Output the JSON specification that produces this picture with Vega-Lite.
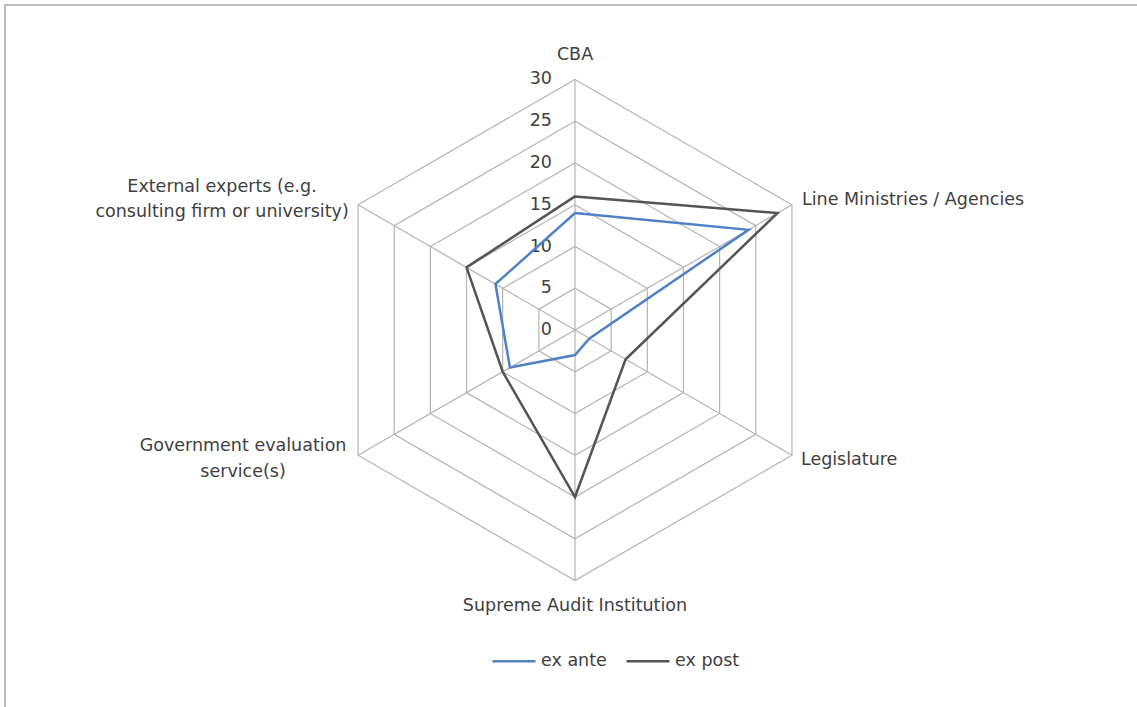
{
  "$schema": "https://vega.github.io/schema/vega-lite/v6.json",
  "width": 1133,
  "height": 703,
  "autosize": {"type": "none"},
  "padding": {"left": 5, "top": 5, "right": 0, "bottom": 0},
  "background": "white",
  "config": {
    "view": {"stroke": "#a6a6a6", "strokeWidth": 1.5},
    "font": "DejaVu Sans",
    "text": {"font": "DejaVu Sans", "fontSize": 17.5, "fill": "#404040"}
  },
  "datasets": {
    "scores": [
      {"category": "CBA", "series": "ex ante", "value": 14},
      {"category": "Line Ministries / Agencies", "series": "ex ante", "value": 24},
      {"category": "Legislature", "series": "ex ante", "value": 2},
      {"category": "Supreme Audit Institution", "series": "ex ante", "value": 3},
      {"category": "Government evaluation service(s)", "series": "ex ante", "value": 9},
      {"category": "External experts (e.g. consulting firm or university)", "series": "ex ante", "value": 11},
      {"category": "CBA", "series": "ex post", "value": 16},
      {"category": "Line Ministries / Agencies", "series": "ex post", "value": 28},
      {"category": "Legislature", "series": "ex post", "value": 7},
      {"category": "Supreme Audit Institution", "series": "ex post", "value": 20},
      {"category": "Government evaluation service(s)", "series": "ex post", "value": 10},
      {"category": "External experts (e.g. consulting firm or university)", "series": "ex post", "value": 15}
    ],
    "axes": [
      {"category": "CBA", "label": "CBA", "levels": [5, 10, 15, 20, 25, 30]},
      {"category": "Line Ministries / Agencies", "label": "Line Ministries / Agencies", "levels": [5, 10, 15, 20, 25, 30]},
      {"category": "Legislature", "label": "Legislature", "levels": [5, 10, 15, 20, 25, 30]},
      {"category": "Supreme Audit Institution", "label": "Supreme Audit Institution", "levels": [5, 10, 15, 20, 25, 30]},
      {"category": "Government evaluation service(s)", "label": "Government evaluation\nservice(s)", "levels": [5, 10, 15, 20, 25, 30]},
      {"category": "External experts (e.g. consulting firm or university)", "label": "External experts (e.g.\nconsulting firm or university)", "levels": [5, 10, 15, 20, 25, 30]}
    ],
    "ticks": [{"tick": 0}, {"tick": 5}, {"tick": 10}, {"tick": 15}, {"tick": 20}, {"tick": 25}, {"tick": 30}]
  },
  "layer": [
    {
      "data": {"name": "axes"},
      "transform": [
        {"flatten": ["levels"], "as": ["level"]},
        {"calculate": "indexof(['CBA','Line Ministries / Agencies','Legislature','Supreme Audit Institution','Government evaluation service(s)','External experts (e.g. consulting firm or university)'], datum.category)", "as": "idx"},
        {"calculate": "datum.level * sin(datum.idx * PI / 3)", "as": "gx"},
        {"calculate": "datum.level * cos(datum.idx * PI / 3)", "as": "gy"}
      ],
      "mark": {"type": "line", "interpolate": "linear-closed", "stroke": "#b4b4b4", "strokeWidth": 1.2},
      "encoding": {
        "x": {"field": "gx", "type": "quantitative", "scale": {"domain": [-68.263, 67.425], "nice": false, "zero": false}, "axis": null},
        "y": {"field": "gy", "type": "quantitative", "scale": {"domain": [-45.269, 38.922], "nice": false, "zero": false}, "axis": null},
        "detail": {"field": "level", "type": "quantitative"},
        "order": {"field": "idx", "type": "quantitative"}
      }
    },
    {
      "data": {"name": "axes"},
      "transform": [
        {"calculate": "indexof(['CBA','Line Ministries / Agencies','Legislature','Supreme Audit Institution','Government evaluation service(s)','External experts (e.g. consulting firm or university)'], datum.category)", "as": "idx"},
        {"calculate": "30 * sin(datum.idx * PI / 3)", "as": "ox"},
        {"calculate": "30 * cos(datum.idx * PI / 3)", "as": "oy"},
        {"calculate": "0", "as": "zero"}
      ],
      "mark": {"type": "rule", "stroke": "#b4b4b4", "strokeWidth": 1.2},
      "encoding": {
        "x": {"field": "zero", "type": "quantitative", "scale": {"domain": [-68.263, 67.425], "nice": false, "zero": false}, "axis": null},
        "y": {"field": "zero", "type": "quantitative", "scale": {"domain": [-45.269, 38.922], "nice": false, "zero": false}, "axis": null},
        "x2": {"field": "ox"},
        "y2": {"field": "oy"}
      }
    },
    {
      "data": {"name": "ticks"},
      "transform": [{"calculate": "0", "as": "zero"}],
      "mark": {"type": "text", "align": "right", "baseline": "middle", "dx": -23},
      "encoding": {
        "x": {"field": "zero", "type": "quantitative", "scale": {"domain": [-68.263, 67.425], "nice": false, "zero": false}, "axis": null},
        "y": {"field": "tick", "type": "quantitative", "scale": {"domain": [-45.269, 38.922], "nice": false, "zero": false}, "axis": null},
        "text": {"field": "tick", "type": "quantitative"}
      }
    },
    {
      "data": {"name": "scores"},
      "transform": [
        {"calculate": "indexof(['CBA','Line Ministries / Agencies','Legislature','Supreme Audit Institution','Government evaluation service(s)','External experts (e.g. consulting firm or university)'], datum.category)", "as": "idx"},
        {"calculate": "datum.value * sin(datum.idx * PI / 3)", "as": "px"},
        {"calculate": "datum.value * cos(datum.idx * PI / 3)", "as": "py"}
      ],
      "mark": {"type": "line", "interpolate": "linear-closed", "strokeWidth": 2.5},
      "encoding": {
        "x": {"field": "px", "type": "quantitative", "scale": {"domain": [-68.263, 67.425], "nice": false, "zero": false}, "axis": null},
        "y": {"field": "py", "type": "quantitative", "scale": {"domain": [-45.269, 38.922], "nice": false, "zero": false}, "axis": null},
        "order": {"field": "idx", "type": "quantitative"},
        "color": {
          "field": "series",
          "type": "nominal",
          "scale": {"domain": ["ex ante", "ex post"], "range": ["#4f81c4", "#545454"]},
          "legend": {
            "title": null,
            "orient": "none",
            "direction": "horizontal",
            "legendX": 486,
            "legendY": 633,
            "symbolType": "stroke",
            "symbolSize": 1849,
            "symbolStrokeWidth": 2.5,
            "labelFont": "DejaVu Sans",
            "labelFontSize": 17.5,
            "labelColor": "#404040",
            "labelOffset": 4,
            "columnPadding": 14
          }
        }
      }
    },
    {
      "data": {"name": "axes"},
      "transform": [
        {"calculate": "indexof(['CBA','Line Ministries / Agencies','Legislature','Supreme Audit Institution','Government evaluation service(s)','External experts (e.g. consulting firm or university)'], datum.category)", "as": "idx"},
        {"calculate": "30 * sin(datum.idx * PI / 3)", "as": "ox"},
        {"calculate": "30 * cos(datum.idx * PI / 3)", "as": "oy"}
      ],
      "layer": [
        {"transform": [{"filter": "datum.idx == 0"}], "mark": {"type": "text", "align": "center", "baseline": "middle", "dy": -24},
         "encoding": {"x": {"field": "ox", "type": "quantitative", "scale": {"domain": [-68.263, 67.425], "nice": false, "zero": false}, "axis": null}, "y": {"field": "oy", "type": "quantitative", "scale": {"domain": [-45.269, 38.922], "nice": false, "zero": false}, "axis": null}, "text": {"field": "label", "type": "nominal"}}},
        {"transform": [{"filter": "datum.idx == 1"}], "mark": {"type": "text", "align": "left", "baseline": "middle", "dx": 10, "dy": -5},
         "encoding": {"x": {"field": "ox", "type": "quantitative", "scale": {"domain": [-68.263, 67.425], "nice": false, "zero": false}, "axis": null}, "y": {"field": "oy", "type": "quantitative", "scale": {"domain": [-45.269, 38.922], "nice": false, "zero": false}, "axis": null}, "text": {"field": "label", "type": "nominal"}}},
        {"transform": [{"filter": "datum.idx == 2"}], "mark": {"type": "text", "align": "left", "baseline": "middle", "dx": 9, "dy": 5},
         "encoding": {"x": {"field": "ox", "type": "quantitative", "scale": {"domain": [-68.263, 67.425], "nice": false, "zero": false}, "axis": null}, "y": {"field": "oy", "type": "quantitative", "scale": {"domain": [-45.269, 38.922], "nice": false, "zero": false}, "axis": null}, "text": {"field": "label", "type": "nominal"}}},
        {"transform": [{"filter": "datum.idx == 3"}], "mark": {"type": "text", "align": "center", "baseline": "middle", "dy": 25},
         "encoding": {"x": {"field": "ox", "type": "quantitative", "scale": {"domain": [-68.263, 67.425], "nice": false, "zero": false}, "axis": null}, "y": {"field": "oy", "type": "quantitative", "scale": {"domain": [-45.269, 38.922], "nice": false, "zero": false}, "axis": null}, "text": {"field": "label", "type": "nominal"}}},
        {"transform": [{"filter": "datum.idx == 4"}], "mark": {"type": "text", "align": "center", "baseline": "middle", "dx": -115, "dy": -9, "lineBreak": "\n", "lineHeight": 25.5},
         "encoding": {"x": {"field": "ox", "type": "quantitative", "scale": {"domain": [-68.263, 67.425], "nice": false, "zero": false}, "axis": null}, "y": {"field": "oy", "type": "quantitative", "scale": {"domain": [-45.269, 38.922], "nice": false, "zero": false}, "axis": null}, "text": {"field": "label", "type": "nominal"}}},
        {"transform": [{"filter": "datum.idx == 5"}], "mark": {"type": "text", "align": "center", "baseline": "middle", "dx": -136, "dy": -18, "lineBreak": "\n", "lineHeight": 25.5},
         "encoding": {"x": {"field": "ox", "type": "quantitative", "scale": {"domain": [-68.263, 67.425], "nice": false, "zero": false}, "axis": null}, "y": {"field": "oy", "type": "quantitative", "scale": {"domain": [-45.269, 38.922], "nice": false, "zero": false}, "axis": null}, "text": {"field": "label", "type": "nominal"}}}
      ]
    }
  ]
}
